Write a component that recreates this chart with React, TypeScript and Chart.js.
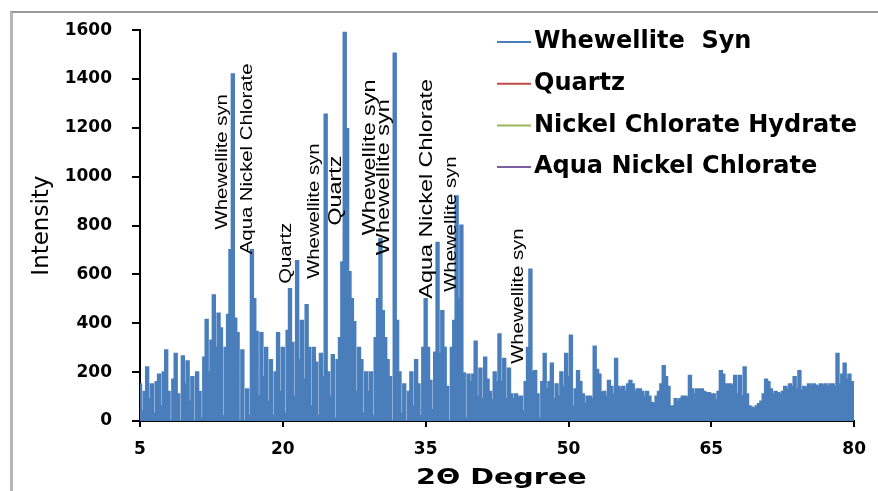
import React, { useEffect, useRef } from "react";
import { Chart, registerables } from "chart.js";

Chart.register(...registerables);

// 2θ sampling of the pattern (degrees)
const START_DEG = 5;
const STEP_DEG = 0.25;

// Intensity, one value per 0.25° from 5° to 80°
const whewelliteSyn = [
  // 5 - 9.75
  150, 40, 120, 220, 90, 150, 30, 160, 190, 60, 200, 290, 120, 0, 170, 275, 110, 0, 265, 150,
  // 10 - 14.75
  245, 80, 180, 0, 200, 120, 10, 260, 415, 200, 330, 515, 300, 440, 380, 20, 300, 435, 700, 1420,
  // 15 - 19.75
  420, 360, 0, 290, 0, 130, 20, 700, 500, 365, 100, 360, 180, 300, 80, 250, 20, 200, 360, 120,
  // 20 - 24.75
  300, 30, 370, 540, 320, 100, 655, 250, 410, 170, 475, 300, 60, 300, 240, 20, 275, 180, 1255, 200,
  // 25 - 29.75
  100, 270, 10, 250, 340, 650, 1590, 1195, 610, 500, 405, 120, 300, 250, 30, 200, 120, 200, 20, 340,
  // 30 - 34.75
  500, 745, 450, 340, 250, 180, 0, 1505, 410, 200, 30, 150, 0, 120, 200, 60, 250, 150, 20, 300,
  // 35 - 39.75
  500, 300, 165, 45, 280, 730, 275, 450, 300, 140, 0, 300, 410, 920, 500, 800, 195, 10, 190, 160,
  // 40 - 44.75
  190, 325, 100, 215, 90, 260, 170, 120, 85, 200, 160, 355, 160, 255, 90, 215, 110, 90, 110, 95,
  // 45 - 49.75
  100, 40, 160, 300, 620, 200, 205, 110, 10, 160, 275, 130, 160, 235, 90, 150, 100, 200, 140, 275,
  // 50 - 54.75
  180, 350, 60, 130, 205, 160, 110, 70, 100, 100, 90, 305, 210, 190, 115, 120, 100, 165, 140, 110,
  // 55 - 59.75
  255, 140, 130, 140, 120, 150, 165, 150, 120, 130, 130, 120, 100, 120, 100, 75, 70, 100, 120, 150,
  // 60 - 64.75
  225, 180, 140, 60, 60, 90, 80, 90, 100, 100, 95, 185, 130, 110, 130, 130, 130, 120, 115, 115,
  // 65 - 69.75
  110, 110, 85, 120, 205, 190, 150, 150, 150, 145, 185, 110, 185, 100, 220, 110, 60, 55, 50, 60,
  // 70 - 74.75
  70, 80, 110, 170, 160, 130, 110, 120, 115, 110, 120, 140, 130, 150, 140, 180, 130, 205, 125, 140,
  // 75 - 80
  135, 150, 145, 150, 145, 140, 150, 145, 150, 140, 150, 150, 140, 275, 150, 190, 235, 170, 190, 160,
  150,
];

const seriesLabels = ["Whewellite  Syn", "Quartz", "Nickel Chlorate Hydrate", "Aqua Nickel Chlorate"];
const seriesColors = ["#4a7ebb", "#be4b48", "#98b954", "#7d60a0"];

const xTicks = [5, 20, 35, 50, 65, 80];
const yMin = 0;
const yMax = 1600;
const yStep = 200;
const xTitle = "2Θ Degree";
const yTitle = "Intensity";

// Phase labels written along the peaks (text, 2θ position, intensity at text start, large?)
const peakLabels = [
  "Whewellite syn",
  "Aqua Nickel Chlorate",
  "Quartz",
  "Whewellite syn",
  "Quartz",
  "Whewellite syn",
  "Whewellite syn",
  "Aqua Nickel Chlorate",
  "Whewellite syn",
  "Whewellite syn",
];
const peakLabelDeg = [13.7, 16.3, 20.4, 23.3, 25.6, 29.1, 30.6, 35.1, 37.7, 44.7];
const peakLabelIntensity = [784, 683, 562, 582, 800, 760, 679, 501, 529, 234];
const peakLabelLarge = [false, false, false, false, true, true, true, true, false, false];

const peakLabelPlugin = {
  id: "peakLabels",
  afterDatasetsDraw(chart: any) {
    const { ctx, scales } = chart;
    ctx.save();
    ctx.fillStyle = "#000";
    ctx.textAlign = "left";
    ctx.textBaseline = "middle";
    peakLabels.forEach((t, i) => {
      const x = scales.x.getPixelForValue(peakLabelDeg[i]);
      const y = scales.y.getPixelForValue(peakLabelIntensity[i]);
      const size = peakLabelLarge[i] ? 19 : 16.5;
      ctx.save();
      ctx.translate(x, y);
      ctx.rotate(-Math.PI / 2);
      ctx.scale(1.23, 1);
      ctx.font = `${size}px "Liberation Sans", Arial, sans-serif`;
      ctx.fillText(t, 0, 0);
      ctx.restore();
    });
    ctx.restore();
  },
};

const xTitlePlugin = {
  id: "xTitle",
  afterDraw(chart: any) {
    const { ctx, chartArea } = chart;
    ctx.save();
    ctx.fillStyle = "#000";
    ctx.textAlign = "left";
    ctx.textBaseline = "middle";
    ctx.font = 'bold 22px "DejaVu Sans", sans-serif';
    ctx.translate(chartArea.left + 276, chartArea.bottom + 57);
    ctx.scale(1.3, 1);
    ctx.fillText(xTitle, 0, 0);
    ctx.restore();
  },
};

const legendPlugin = {
  id: "insideLegend",
  afterDraw(chart: any) {
    const { ctx } = chart;
    ctx.save();
    ctx.font = 'bold 24px "DejaVu Sans", sans-serif';
    ctx.textBaseline = "middle";
    ctx.textAlign = "left";
    chart.data.datasets.forEach((ds: any, i: number) => {
      const y = 42 + i * 41.7;
      ctx.strokeStyle = ds.borderColor;
      ctx.lineWidth = 2;
      ctx.beginPath();
      ctx.moveTo(497, y);
      ctx.lineTo(531, y);
      ctx.stroke();
      ctx.fillStyle = "#000";
      ctx.fillText(ds.label, 534, y);
    });
    ctx.restore();
  },
};

export default function App() {
  const ref = useRef<HTMLCanvasElement | null>(null);

  useEffect(() => {
    if (!ref.current) return;
    const mainData = whewelliteSyn.map((v, i) => ({ x: START_DEG + i * STEP_DEG, y: v }));
    const chart = new Chart(ref.current, {
      type: "line",
      data: {
        datasets: seriesLabels.map((label, i) => ({
          label,
          data: i === 0 ? mainData : [],
          borderColor: seriesColors[i],
          backgroundColor: seriesColors[i],
          borderWidth: 2,
          pointRadius: 0,
          stepped: "middle" as const,
          fill: i === 0 ? "origin" : false,
        })),
      },
      options: {
        animation: false,
        responsive: false,
        maintainAspectRatio: false,
        layout: { padding: { left: 0, right: 21, top: 25, bottom: 0 } },
        plugins: { legend: { display: false }, tooltip: { enabled: false } },
        scales: {
          x: {
            type: "linear",
            min: 5,
            max: 80,
            afterBuildTicks: (axis: any) => {
              axis.ticks = xTicks.map((v) => ({ value: v }));
            },
            afterFit: (scale: any) => {
              scale.height = 70;
            },
            grid: { drawOnChartArea: false, drawTicks: true, tickLength: 6, color: "#000", lineWidth: 2 },
            border: { display: true, color: "#000", width: 2 },
            ticks: {
              color: "#000",
              padding: 12,
              maxRotation: 0,
              callback: (v: any) => String(v),
              font: { family: '"DejaVu Sans", sans-serif', size: 17, weight: "bold" },
            },
          },
          y: {
            min: yMin,
            max: yMax,
            ticks: {
              stepSize: yStep,
              color: "#000",
              padding: 20,
              callback: (v: any) => String(v),
              font: { family: '"DejaVu Sans", sans-serif', size: 17, weight: "bold" },
            },
            afterFit: (scale: any) => {
              scale.width = 140;
            },
            grid: { drawOnChartArea: false, drawTicks: true, tickLength: 8, color: "#000", lineWidth: 2 },
            border: { display: true, color: "#000", width: 2 },
            title: {
              display: true,
              text: yTitle,
              color: "#000",
              padding: { top: 28, bottom: 0 },
              font: { family: '"DejaVu Sans", sans-serif', size: 23 },
            },
          },
        },
      },
      plugins: [peakLabelPlugin, xTitlePlugin, legendPlugin],
    });
    return () => chart.destroy();
  }, []);

  return (
    <div style={{ position: "absolute", left: 0, top: 0, width: 878, height: 491, background: "#fff", overflow: "hidden" }}>
      <div
        style={{
          position: "absolute",
          left: 10,
          top: 11,
          right: 0,
          bottom: 0,
          borderLeft: "3px solid #b5b5b5",
          borderTop: "2px solid #9a9a9a",
        }}
      />
      <canvas ref={ref} width={878} height={491} style={{ position: "absolute", left: 0, top: 0 }} />
    </div>
  );
}
